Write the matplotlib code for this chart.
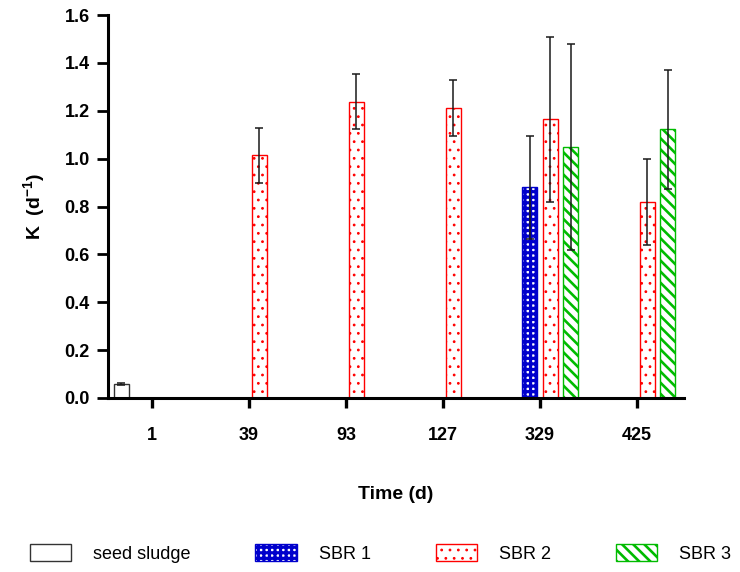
import numpy as np
import matplotlib
matplotlib.use("Agg")
import matplotlib.pyplot as plt
from matplotlib.patches import Patch

plt.rcParams['font.family'] = ['Liberation Sans', 'DejaVu Sans']
plt.rcParams['mathtext.fontset'] = 'custom'
plt.rcParams['mathtext.rm'] = 'Liberation Sans:bold'
plt.rcParams['mathtext.bf'] = 'Liberation Sans:bold'

# ---- data ----
days = ['1', '39', '93', '127', '329', '425']
series = ['seed sludge', 'SBR 1', 'SBR 2', 'SBR 3']
seed_vals = [0.06, np.nan, np.nan, np.nan, np.nan, np.nan]
seed_err = [0.004, np.nan, np.nan, np.nan, np.nan, np.nan]
sbr1_vals = [np.nan, np.nan, np.nan, np.nan, 0.88, np.nan]
sbr1_err = [np.nan, np.nan, np.nan, np.nan, 0.215, np.nan]
sbr2_vals = [np.nan, 1.015, 1.238, 1.21, 1.164, 0.819]
sbr2_err = [np.nan, 0.115, 0.115, 0.117, 0.345, 0.18]
sbr3_vals = [np.nan, np.nan, np.nan, np.nan, 1.048, 1.122]
sbr3_err = [np.nan, np.nan, np.nan, np.nan, 0.43, 0.25]
yticks = [0.0, 0.2, 0.4, 0.6, 0.8, 1.0, 1.2, 1.4, 1.6]

values = [seed_vals, sbr1_vals, sbr2_vals, sbr3_vals]
errors = [seed_err, sbr1_err, sbr2_err, sbr3_err]
edgecolors = ['#333333', '#0000cc', '#ff0000', '#00bb00']
hatches = [None, '+++', '..', '\\\\\\']
hatch_lw = [1.0, 2.3, 0.8, 1.9]

fig = plt.figure(figsize=(7.4, 5.72), dpi=100)
ax = fig.add_axes([108/740, 1-398/572, (684-108)/740, (398-15)/572])

x = np.arange(len(days))
step = 0.211
width = 0.155
handles = []
for i, (v, e, ec, h, hl, name) in enumerate(zip(values, errors, edgecolors,
                                               hatches, hatch_lw, series)):
    off = (i - 1.5) * step
    with plt.rc_context({'hatch.linewidth': hl}):
        ax.bar(x + off, v, width=width, facecolor='white', edgecolor=ec,
               hatch=h, linewidth=1.0, zorder=2)
        handles.append(Patch(facecolor='white', edgecolor=ec, hatch=h,
                             linewidth=1.0, label=name))
    ax.errorbar(x + off, v, yerr=e, fmt='none', ecolor='#1a1a1a',
                elinewidth=1.1, capsize=2.6, capthick=1.1, zorder=3)

ax.set_xlim(-0.454, 5.485)
ax.set_ylim(0, 1.6)
ax.set_yticks(yticks)
ax.set_yticklabels([f"{t:.1f}" for t in yticks])
ax.set_xticks(x)
ax.set_xticklabels(days)

for s in ['top', 'right']:
    ax.spines[s].set_visible(False)
for s in ['left', 'bottom']:
    ax.spines[s].set_linewidth(2.2)

ax.tick_params(axis='y', length=8, width=2.0, pad=5, labelsize=13)
ax.tick_params(axis='x', length=7, width=2.4, pad=14, labelsize=13)
for lab in ax.get_xticklabels() + ax.get_yticklabels():
    lab.set_fontweight('bold')

ax.set_xlabel('Time (d)', fontsize=14, fontweight='bold', labelpad=30)
ax.set_ylabel(r'K  (d$^{-1}$)', fontsize=14, fontweight='bold', labelpad=12)

leg = fig.legend(handles=handles, loc='center', bbox_to_anchor=(0.514, 0.033),
                 ncol=4, frameon=False, fontsize=13, handlelength=2.3,
                 handleheight=1.1, handletextpad=1.2, columnspacing=3.6)
for p, hl in zip(leg.get_patches(), hatch_lw):
    if hasattr(p, 'set_hatch_linewidth'):
        p.set_hatch_linewidth(hl)
    else:
        p._hatch_linewidth = hl

fig.savefig('out.png', dpi=100)
